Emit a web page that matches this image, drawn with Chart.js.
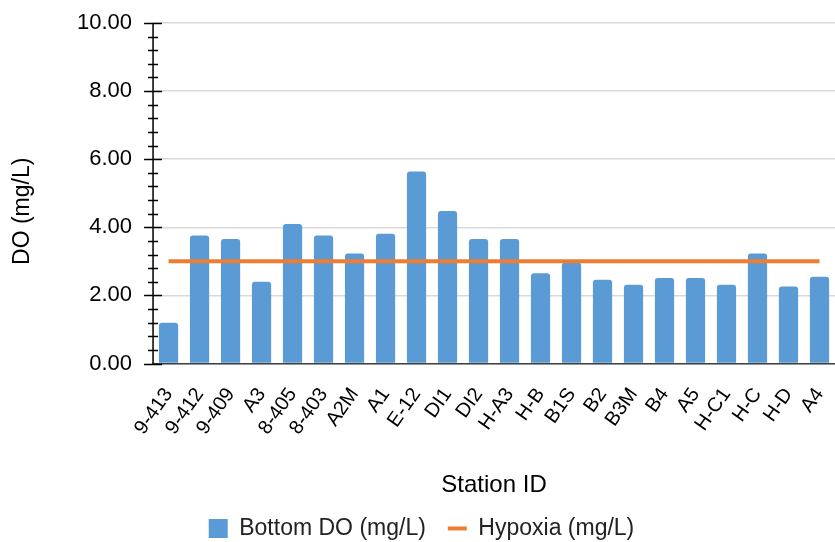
<!DOCTYPE html>
<html>
<head>
<meta charset="utf-8">
<script src="https://cdn.jsdelivr.net/npm/chart.js@4.4.1/dist/chart.umd.min.js"></script>
<style>
  html, body { margin: 0; padding: 0; background: #fff; }
  #wrap { width: 835px; height: 542px; }
</style>
</head>
<body>
<div id="wrap"><canvas id="chart"></canvas></div>
<script>
const stations = ['9-413', '9-412', '9-409', 'A3', '8-405', '8-403', 'A2M', 'A1', 'E-12', 'DI1', 'DI2',
    'H-A3', 'H-B', 'B1S', 'B2', 'B3M', 'B4', 'A5', 'H-C1', 'H-C', 'H-D', 'A4'];
const bottomDO = [1.20, 3.76, 3.66, 2.40, 4.10, 3.76, 3.23, 3.81, 5.64, 4.48, 3.66,
    3.66, 2.65, 2.97, 2.46, 2.31, 2.51, 2.51, 2.31, 3.23, 2.26, 2.55];
const hypoxia = [3, 3, 3, 3, 3, 3, 3, 3, 3, 3, 3,
    3, 3, 3, 3, 3, 3, 3, 3, 3, 3, 3];
const yTicks = [0, 2, 4, 6, 8, 10];
const yTitle = 'DO (mg/L)';

const font = "'Liberation Sans', Arial, sans-serif";

// y axis line with major/minor tick marks crossing it, plus the y title
const axisTicks = {
    id: 'axisTicks',
    afterDatasetsDraw(chart) {
        const y = chart.scales.y;
        const area = chart.chartArea;
        const x0 = area.left;
        const c = chart.ctx;
        c.save();
        c.strokeStyle = '#000';
        c.lineWidth = 1.5;
        c.beginPath();
        c.moveTo(x0, y.getPixelForValue(10));
        c.lineTo(x0, y.getPixelForValue(0));
        for (let i = 0; i <= 25; i++) {
            const v = i * 0.4;
            const py = Math.round(y.getPixelForValue(v)) + 0.5;
            const len = (i % 5 === 0) ? 9 : 5;
            c.moveTo(x0 - len, py);
            c.lineTo(x0 + len, py);
        }
        c.stroke();

        // axis title sits a little below the plot middle, as in the original
        c.translate(23, (area.top + area.bottom) / 2 + 18);
        c.rotate(-Math.PI / 2);
        c.fillStyle = '#000';
        c.font = '23px ' + font;
        c.textAlign = 'center';
        c.textBaseline = 'middle';
        c.fillText(yTitle, 0, 0);
        c.restore();
    }
};

new Chart(document.getElementById('chart'), {
    data: {
        labels: stations,
        datasets: [
            {
                type: 'line',
                label: 'Hypoxia (mg/L)',
                data: hypoxia,
                borderColor: '#ED7D31',
                backgroundColor: '#ED7D31',
                borderWidth: 4,
                pointRadius: 0,
                pointStyle: 'line',
                order: 0
            },
            {
                type: 'bar',
                label: 'Bottom DO (mg/L)',
                data: bottomDO,
                backgroundColor: '#5B9BD5',
                borderRadius: { topLeft: 3, topRight: 3 },
                borderSkipped: 'bottom',
                categoryPercentage: 1,
                barPercentage: 0.62,
                pointStyle: 'rect',
                order: 1
            }
        ]
    },
    options: {
        responsive: true,
        maintainAspectRatio: false,
        animation: false,
        layout: { padding: { top: 23, left: 8, right: 0, bottom: -8 } },
        scales: {
            x: {
                afterFit(scale) { scale.paddingRight = 0; },
                grid: { display: false },
                border: { color: '#404040', width: 1.5 },
                ticks: {
                    color: '#000',
                    font: { family: font, size: 20 },
                    minRotation: 55,
                    maxRotation: 55,
                    autoSkip: false,
                    padding: 12
                },
                title: {
                    display: true,
                    text: 'Station ID',
                    color: '#000',
                    font: { family: font, size: 24 },
                    padding: { top: 20, bottom: -5 }
                }
            },
            y: {
                min: 0,
                max: 10,
                afterBuildTicks(scale) {
                    scale.ticks = yTicks.map(v => ({ value: v }));
                },
                afterFit(scale) {
                    scale.paddingTop = 0;
                    scale.width += 48; // room for the hand-drawn title
                },
                grid: { color: '#d9d9d9', lineWidth: 1.5, drawTicks: false },
                border: { display: false },
                ticks: {
                    color: '#000',
                    font: { family: font, size: 22 },
                    padding: 21,
                    callback: v => Number(v).toFixed(2)
                }
            }
        },
        plugins: {
            legend: {
                position: 'bottom',
                reverse: true,
                labels: {
                    usePointStyle: true,
                    pointStyleWidth: 19,
                    color: '#222',
                    font: { family: font, size: 23 },
                    boxWidth: 19,
                    boxHeight: 19,
                    padding: 22
                }
            },
            tooltip: { enabled: false }
        }
    },
    plugins: [axisTicks]
});
</script>
</body>
</html>
